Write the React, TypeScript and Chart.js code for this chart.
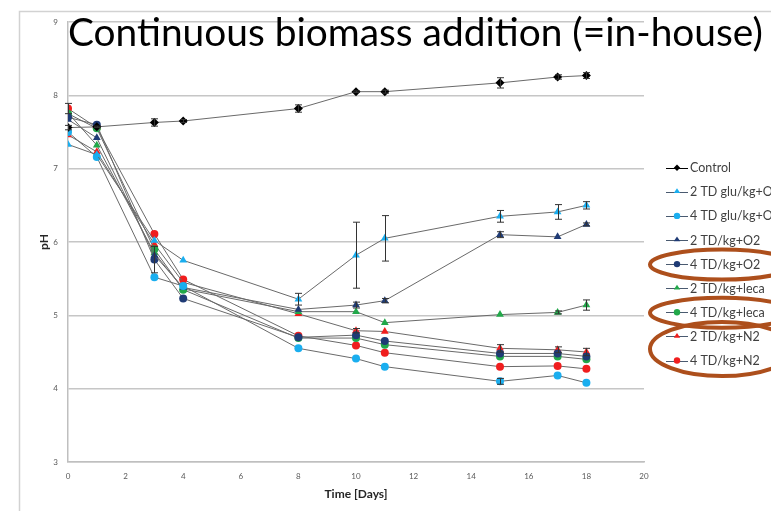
import React, { useEffect, useRef } from 'react';
import { Chart, registerables } from 'chart.js';

Chart.register(...registerables);

const days = [0, 1, 3, 4, 8, 10, 11, 15, 17, 18];

const seriesNames = [
  'Control',
  '2 TD glu/kg+O2',
  '4 TD glu/kg+O2',
  '2 TD/kg+O2',
  '4 TD/kg+O2',
  '2 TD/kg+leca',
  '4 TD/kg+leca',
  '2 TD/kg+N2',
  '4 TD/kg+N2',
];

const control = [7.56, 7.57, 7.63, 7.65, 7.82, 8.05, 8.05, 8.17, 8.25, 8.27];
const controlErr = [0.03, 0.01, 0.05, 0.02, 0.05, 0.01, 0.02, 0.07, 0.03, 0.04];
const glu2 = [7.33, 7.19, 6.02, 5.75, 5.22, 5.82, 6.05, 6.35, 6.41, 6.5];
const glu2Err = [0, 0, 0, 0, 0.08, 0.45, 0.31, 0.08, 0.1, 0.05];
const glu4 = [7.5, 7.16, 5.52, 5.4, 4.55, 4.41, 4.3, 4.1, 4.18, 4.08];
const glu4Err = [0, 0, 0, 0, 0, 0, 0, 0.04, 0, 0];
const o2two = [7.67, 7.42, 5.82, 5.38, 5.08, 5.14, 5.2, 6.1, 6.07, 6.24];
const o2twoErr = [0, 0, 0, 0, 0, 0.04, 0.03, 0.04, 0, 0.02];
const o2four = [7.7, 7.6, 5.76, 5.23, 4.7, 4.73, 4.65, 4.48, 4.48, 4.44];
const o2fourErr = [0, 0, 0.18, 0, 0, 0, 0, 0, 0, 0];
const leca2 = [7.76, 7.32, 5.85, 5.36, 5.05, 5.05, 4.9, 5.01, 5.04, 5.14];
const leca2Err = [0, 0, 0, 0, 0, 0, 0, 0, 0.02, 0.07];
const leca4 = [7.75, 7.55, 5.9, 5.35, 4.69, 4.69, 4.6, 4.44, 4.44, 4.4];
const leca4Err = [0, 0, 0, 0, 0, 0, 0, 0, 0, 0];
const n2two = [7.46, 7.23, 5.97, 5.45, 5.02, 4.79, 4.78, 4.55, 4.53, 4.5];
const n2twoErr = [0, 0, 0, 0, 0, 0.03, 0, 0.05, 0.04, 0.05];
const n2four = [7.82, 7.56, 6.11, 5.49, 4.72, 4.59, 4.49, 4.3, 4.31, 4.27];
const n2fourErr = [0.07, 0, 0, 0, 0, 0, 0, 0, 0, 0];

const seriesValues = [control, glu2, glu4, o2two, o2four, leca2, leca4, n2two, n2four];
const seriesErrors = [controlErr, glu2Err, glu4Err, o2twoErr, o2fourErr, leca2Err, leca4Err, n2twoErr, n2fourErr];
const seriesColors = ['#000000', '#1aaeef', '#1aaeef', '#1f3b75', '#1f3b75', '#22a84a', '#22a84a', '#f01e1e', '#f01e1e'];
const seriesShapes = ['rectRot', 'triangle', 'circle', 'triangle', 'circle', 'triangle', 'circle', 'triangle', 'circle'];

const titleText = 'Continuous biomass addition (=in-house)';
const circledItems = [[4, 4], [6, 6], [7, 8]];

const LINE_COLOR = '#6a6a6a';

function drawMarker(ctx: CanvasRenderingContext2D, shape: string, x: number, y: number, r: number, color: string) {
  ctx.save();
  ctx.fillStyle = color;
  ctx.strokeStyle = color;
  ctx.beginPath();
  if (shape === 'circle') {
    ctx.arc(x, y, r, 0, Math.PI * 2);
  } else if (shape === 'triangle') {
    const h = r * 1.5;
    ctx.moveTo(x, y - r * 1.1);
    ctx.lineTo(x + r, y + h - r * 1.1);
    ctx.lineTo(x - r, y + h - r * 1.1);
    ctx.closePath();
  } else {
    ctx.moveTo(x, y - r);
    ctx.lineTo(x + r, y);
    ctx.lineTo(x, y + r);
    ctx.lineTo(x - r, y);
    ctx.closePath();
  }
  ctx.fill();
  ctx.restore();
}

const decorPlugin = {
  id: 'decor',
  beforeDraw(chart: any) {
    const { ctx, width, height } = chart;
    ctx.save();
    ctx.fillStyle = '#ffffff';
    ctx.fillRect(0, 0, width, height);
    ctx.strokeStyle = '#d2d2d2';
    ctx.lineWidth = 1.5;
    ctx.beginPath();
    ctx.moveTo(19.5, height + 2);
    ctx.lineTo(19.5, 11.5);
    ctx.lineTo(width + 2, 11.5);
    ctx.stroke();
    ctx.restore();
  },
  afterDatasetsDraw(chart: any) {
    const { ctx } = chart;
    const xs = chart.scales.x;
    const ys = chart.scales.y;
    ctx.save();
    ctx.strokeStyle = '#333333';
    ctx.lineWidth = 1;
    seriesErrors.forEach((errs, si) => {
      errs.forEach((e, i) => {
        if (!e) return;
        const v = seriesValues[si][i];
        const px = Math.round(xs.getPixelForValue(days[i])) + 0.5;
        const t = ys.getPixelForValue(v + e);
        const b = ys.getPixelForValue(v - e);
        ctx.beginPath();
        ctx.moveTo(px, t);
        ctx.lineTo(px, b);
        ctx.moveTo(px - 3.5, t);
        ctx.lineTo(px + 3.5, t);
        ctx.moveTo(px - 3.5, b);
        ctx.lineTo(px + 3.5, b);
        ctx.stroke();
      });
    });
    ctx.restore();
  },
  afterDraw(chart: any) {
    const { ctx } = chart;
    ctx.save();
    // title
    let size = 34;
    ctx.font = `400 ${size}px "Lato", "Open Sans", sans-serif`;
    const w = ctx.measureText(titleText).width;
    size = size * (695 / w);
    ctx.font = `400 ${size}px "Lato", "Open Sans", sans-serif`;
    ctx.fillStyle = '#000000';
    ctx.textBaseline = 'alphabetic';
    ctx.textAlign = 'left';
    ctx.fillText(titleText, 68, 46);

    // legend
    const lx0 = 666;
    const lx1 = 688;
    const ly0 = 167.7;
    const step = 24.1;
    ctx.font = '12.5px "Lato", "Open Sans", sans-serif';
    ctx.textBaseline = 'middle';
    seriesNames.forEach((name, i) => {
      const y = ly0 + i * step;
      ctx.strokeStyle = i === 0 ? '#000000' : '#4a5a70';
      ctx.lineWidth = 1;
      ctx.beginPath();
      ctx.moveTo(lx0, Math.round(y) + 0.5);
      ctx.lineTo(lx1, Math.round(y) + 0.5);
      ctx.stroke();
      drawMarker(ctx, seriesShapes[i], (lx0 + lx1) / 2, y, 3.2, seriesColors[i]);
      ctx.fillStyle = '#404040';
      ctx.fillText(name, 690, y + 0.5);
    });

    // circled items
    ctx.strokeStyle = '#ad4f1c';
    ctx.lineWidth = 4;
    circledItems.forEach(([a, b]) => {
      const ya = ly0 + a * step;
      const yb = ly0 + b * step;
      const cy = (ya + yb) / 2 + 0.5;
      const ry = (yb - ya) / 2 + 15;
      ctx.beginPath();
      ctx.ellipse(722, cy, 72, ry, 0, 0, Math.PI * 2);
      ctx.stroke();
    });
    ctx.restore();
  },
};

export default function App() {
  const canvasRef = useRef<HTMLCanvasElement | null>(null);

  useEffect(() => {
    if (!canvasRef.current) return;
    const datasets = seriesNames.map((name, si) => ({
      label: name,
      data: days.map((d, i) => ({ x: d, y: seriesValues[si][i] })),
      showLine: true,
      borderColor: LINE_COLOR,
      borderWidth: 1,
      backgroundColor: seriesColors[si],
      pointBackgroundColor: seriesColors[si],
      pointBorderColor: seriesColors[si],
      pointBorderWidth: 0,
      pointStyle: seriesShapes[si],
      pointRadius: seriesShapes[si] === 'circle' ? 4 : 4.5,
      tension: 0,
    }));

    const chart = new Chart(canvasRef.current, {
      type: 'scatter',
      data: { datasets },
      options: {
        animation: false,
        responsive: false,
        layout: { padding: { left: 0, top: 22, right: 127, bottom: 0 } },
        plugins: {
          legend: { display: false },
          title: { display: false },
          tooltip: { enabled: false },
        },
        scales: {
          x: {
            type: 'linear',
            min: 0,
            max: 20,
            ticks: {
              stepSize: 2,
              padding: 10,
              color: '#595959',
              font: { size: 8, family: '"Lato", "Open Sans", sans-serif' },
              maxRotation: 0,
            },
            grid: { display: false, drawTicks: false },
            border: { display: true, color: '#bfbfbf', width: 1.5 },
            title: {
              display: true,
              text: 'Time [Days]',
              color: '#262626',
              font: { size: 12, weight: 'bold', family: '"Lato", "Open Sans", sans-serif' },
              padding: { top: 0, bottom: 10 },
            },
            afterFit: (scale: any) => {
              scale.height = 49;
            },
          },
          y: {
            min: 3,
            max: 9,
            ticks: {
              stepSize: 1,
              padding: 10,
              color: '#595959',
              font: { size: 8, family: '"Lato", "Open Sans", sans-serif' },
            },
            grid: { color: '#c6c6c6', lineWidth: 1.5, drawTicks: false },
            border: { display: true, color: '#bfbfbf', width: 1.5 },
            title: {
              display: true,
              text: 'pH',
              color: '#262626',
              font: { size: 12, weight: 'bold', family: '"Lato", "Open Sans", sans-serif' },
              padding: { top: 37, bottom: 0 },
            },
            afterFit: (scale: any) => {
              scale.width = 68;
            },
          },
        },
      } as any,
      plugins: [decorPlugin],
    });
    return () => chart.destroy();
  }, []);

  return (
    <div style={{ position: 'fixed', left: 0, top: 0, width: 771, height: 511, background: '#fff' }}>
      <canvas ref={canvasRef} width={771} height={511} style={{ display: 'block' }} />
    </div>
  );
}
